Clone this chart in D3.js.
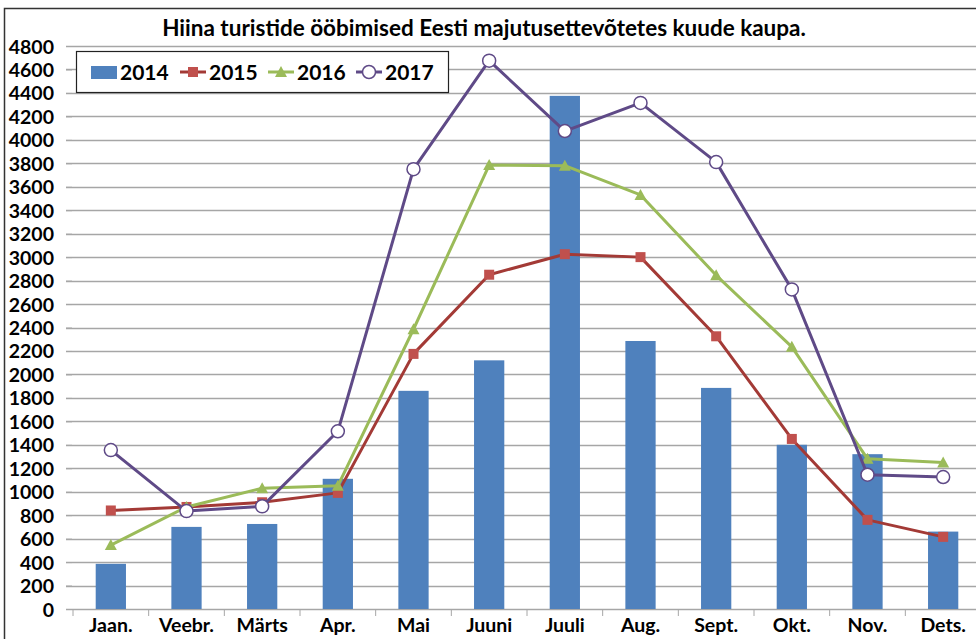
<!DOCTYPE html>
<html><head><meta charset="utf-8">
<script src="https://cdn.jsdelivr.net/npm/d3@7"></script>
<style>
html,body{margin:0;padding:0;background:#fff;overflow:hidden;}
text{font-family:Lato,"Open Sans",sans-serif;font-weight:bold;fill:#000;}
</style></head>
<body><svg id="c" width="976" height="639"></svg>
<script>
const months = ["Jaan.","Veebr.","Märts","Apr.","Mai","Juuni","Juuli","Aug.","Sept.","Okt.","Nov.","Dets."];
const v2014 = [385,700,725,1110,1860,2120,4375,2285,1885,1400,1320,660];
const v2015 = [840,870,910,990,2175,2850,3025,3000,2325,1450,760,615];
const v2016 = [545,870,1030,1050,2385,3785,3780,3530,2845,2235,1280,1250];
const v2017 = [1355,835,875,1515,3750,4675,4075,4315,3810,2725,1145,1125];
const yTicks = d3.range(0, 4801, 200);
const title = "Hiina turistide ööbimised Eesti majutusettevõtetes kuude kaupa.";

const svg = d3.select("#c");
const x = d3.scaleBand().domain(months).range([73, 981]).padding(0);
const y = d3.scaleLinear().domain([0, 4800]).range([609, 46]);

// outer border
svg.append("rect").attr("x",4.5).attr("y",8.5).attr("width",1000).attr("height",700)
  .attr("fill","#fff").attr("stroke","#333").attr("stroke-width",1.5);

// gridlines
svg.append("g").selectAll("line").data(yTicks.filter(d=>d>0)).join("line")
  .attr("x1",66).attr("x2",981).attr("y1",d=>Math.round(y(d))+0.5).attr("y2",d=>Math.round(y(d))+0.5)
  .attr("stroke","#a6a6a6").attr("stroke-width",1.3);

// y axis
const ya = svg.append("g").attr("transform","translate(72,0)")
  .call(d3.axisLeft(y).tickValues(yTicks).tickSize(6).tickPadding(10).tickFormat(d3.format("d")));
ya.select(".domain").remove();
ya.selectAll("line").attr("stroke","#a6a6a6");
ya.selectAll("text").attr("font-size",19.5).attr("dy","0.36em").attr("x",-18);

// x axis
svg.append("line").attr("x1",66).attr("x2",981).attr("y1",609.5).attr("y2",609.5).attr("stroke","#a6a6a6").attr("stroke-width",1.3);
svg.append("g").selectAll("line").data(months).join("line")
  .attr("x1",d=>x(d)).attr("x2",d=>x(d)).attr("y1",609).attr("y2",616)
  .attr("stroke","#a6a6a6");
svg.append("g").selectAll("text").data(months).join("text")
  .attr("x",d=>x(d)+x.bandwidth()/2).attr("y",632).attr("text-anchor","middle")
  .attr("font-size",19.5).text(d=>d);

// bars
const bw = x.bandwidth()*0.4;
svg.append("g").selectAll("rect").data(v2014).join("rect")
  .attr("x",(d,i)=>x(months[i])+x.bandwidth()/2-bw/2).attr("width",bw)
  .attr("y",d=>y(d)).attr("height",d=>y(0)-y(d)).attr("fill","#4f81bd");

const cx = i => x(months[i])+x.bandwidth()/2;
const line = d3.line().x((d,i)=>cx(i)).y(d=>y(d));

function series(vals, color, marker){
  svg.append("path").datum(vals).attr("d",line).attr("fill","none")
    .attr("stroke",color.line).attr("stroke-width",3).attr("stroke-linejoin","round");
  const g = svg.append("g");
  vals.forEach((d,i)=>drawMarker(g, marker, cx(i), y(d), color));
}
function drawMarker(g, marker, px, py, color){
  if(marker==="square"){
    g.append("rect").attr("x",px-5).attr("y",py-5).attr("width",10).attr("height",10).attr("fill",color.marker);
  } else if(marker==="triangle"){
    g.append("path").attr("d",`M${px},${py-6}L${px+6},${py+5}L${px-6},${py+5}Z`).attr("fill",color.marker);
  } else {
    g.append("circle").attr("cx",px).attr("cy",py).attr("r",6.5).attr("fill","#fff")
      .attr("stroke",color.marker).attr("stroke-width",1.5);
  }
}
const c2015={line:"#a33a36",marker:"#c0504d"};
const c2016={line:"#9bbb59",marker:"#9bbb59"};
const c2017={line:"#5f4a87",marker:"#5f4a87"};
series(v2015,c2015,"square");
series(v2016,c2016,"triangle");
series(v2017,c2017,"circle");

// title
svg.append("text").attr("x",484).attr("y",36).attr("text-anchor","middle")
  .attr("font-size",22.5).text(title);

// legend
const lg = svg.append("g");
lg.append("rect").attr("x",76.5).attr("y",51.5).attr("width",372).attr("height",41)
  .attr("fill","#fff").attr("stroke","#222").attr("stroke-width",1.2);
const ly = 72;
const items = [
  {name:"2014", type:"bar", x0:91},
  {name:"2015", type:"square", c:c2015, x0:180},
  {name:"2016", type:"triangle", c:c2016, x0:268},
  {name:"2017", type:"circle", c:c2017, x0:356}
];
items.forEach(it=>{
  if(it.type==="bar"){
    lg.append("rect").attr("x",it.x0).attr("y",ly-6).attr("width",26).attr("height",13).attr("fill","#4f81bd");
  } else {
    lg.append("line").attr("x1",it.x0).attr("x2",it.x0+26).attr("y1",ly).attr("y2",ly)
      .attr("stroke",it.c.line).attr("stroke-width",3);
    drawMarker(lg, it.type, it.x0+13, ly, it.c);
  }
  lg.append("text").attr("x",it.x0+29).attr("y",ly+7.5).attr("font-size",21).text(it.name);
});
</script></body></html>
